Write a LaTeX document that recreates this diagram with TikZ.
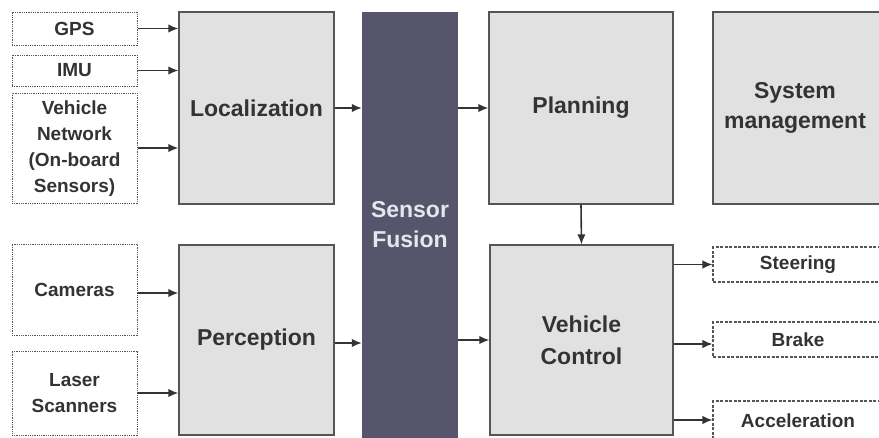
\documentclass[tikz,border=0pt]{standalone}
\usepackage{fontspec}
\setmainfont{Liberation Sans}
\usetikzlibrary{arrows.meta}
\definecolor{boxfill}{HTML}{E1E1E1}
\definecolor{edge}{HTML}{555555}
\definecolor{txt}{HTML}{333333}
\definecolor{fusion}{HTML}{56556B}
\definecolor{fusiontxt}{HTML}{E6E6EE}
\tikzset{
  big/.style={draw=edge, line width=1.3pt, fill=boxfill, text=txt, font=\bfseries\fontsize{23}{32}\selectfont, align=center, inner sep=0pt},
  bigtext/.style={text=txt, font=\bfseries\fontsize{23}{30}\selectfont, align=center, inner sep=0pt},
  inbox/.style={draw=edge, line width=1pt, dash pattern=on 1pt off 0.8pt, fill=white, text=txt, font=\bfseries\fontsize{19}{26}\selectfont, align=center, inner sep=0pt},
  outbox/.style={draw=edge, line width=1.1pt, dash pattern=on 3pt off 1.5pt, fill=white, text=txt, font=\bfseries\fontsize{19}{24}\selectfont, align=center, inner sep=0pt},
  fusionbox/.style={fill=fusion, draw=none, text=fusiontxt, font=\bfseries\fontsize{23}{30}\selectfont, align=center, inner sep=0pt},
  arr/.style={draw=txt, line width=1.6pt, -{Latex[length=10pt,width=8.5pt]}},
}
\begin{document}
\begin{tikzpicture}[x=1pt,y=-1pt]
\useasboundingbox (0,0) rectangle (879,437);
\clip (0,0) rectangle (879,437);
% inputs
\node[inbox, minimum width=125, minimum height=33] (gps) at (74.5,28.5) {GPS};
\node[inbox, minimum width=125, minimum height=31] (imu) at (74.5,70.5) {IMU};
\node[inbox, minimum width=125, minimum height=110] (vn) at (74.5,148) {\raisebox{-3pt}{\begin{tabular}{@{}c@{}}Vehicle\\Network\\(On-board\\Sensors)\end{tabular}}};
\node[inbox, minimum width=125, minimum height=91] (cam) at (74.5,289.5) {\raisebox{-2pt}{Cameras}};
\node[inbox, minimum width=125, minimum height=84] (las) at (74.5,393) {Laser\\Scanners};
% main blocks
\node[big, minimum width=155, minimum height=192] (loc) at (256.5,108) {Localization};
\node[big, minimum width=155, minimum height=190] (per) at (256.5,340) {\raisebox{-2pt}{Perception}};
\node[fusionbox, minimum width=96, minimum height=440] (sf) at (410,232) {};
\node[fusionbox] (sft) at (410,225) {Sensor\\Fusion};
\node[big, minimum width=184, minimum height=192] (pl) at (581,108) {\raisebox{-3pt}{Planning}};
\node[big, minimum width=184, minimum height=192] (sm) at (805,108) {};
\node[bigtext] (smt) at ([xshift=-10pt]sm.center) {System\\management};
\node[big, minimum width=183, minimum height=190] (vc) at (581.5,340) {Vehicle\\Control};
% outputs
\node[outbox, minimum width=190, minimum height=35] (st) at (808,264.5) {\hspace*{-20pt}Steering};
\node[outbox, minimum width=190, minimum height=35] (br) at (808,339.5) {\hspace*{-20pt}Brake};
\node[outbox, minimum width=190, minimum height=44] (ac) at (808,423) {\raisebox{4pt}{\hspace*{-20pt}Acceleration}};
% arrows
\draw[arr] (gps.east) -- (gps.east -| loc.west);
\draw[arr] (imu.east) -- (imu.east -| loc.west);
\draw[arr] (vn.east) -- (vn.east -| loc.west);
\draw[arr] ([yshift=-3.5pt]cam.east) -- ([yshift=-3.5pt]cam.east -| per.west);
\draw[arr] (las.east) -- (las.east -| per.west);
\draw[arr] (loc.east) -- (loc.east -| sf.west);
\draw[arr] ([yshift=-3pt]per.east) -- ([yshift=-3pt]per.east -| sf.west);
\draw[arr] (pl.west -| sf.east) -- (pl.west);
\draw[arr] (vc.west -| sf.east) -- (vc.west);
\draw[arr] (pl.south) -- (vc.north);
\draw[arr] (st.west -| vc.east) -- (st.west);
\draw[arr] ([yshift=-4.5pt]br.west -| vc.east) -- ([yshift=-4.5pt]br.west);
\draw[arr] ([yshift=3pt]ac.west -| vc.east) -- ([yshift=3pt]ac.west);
\end{tikzpicture}
\end{document}
